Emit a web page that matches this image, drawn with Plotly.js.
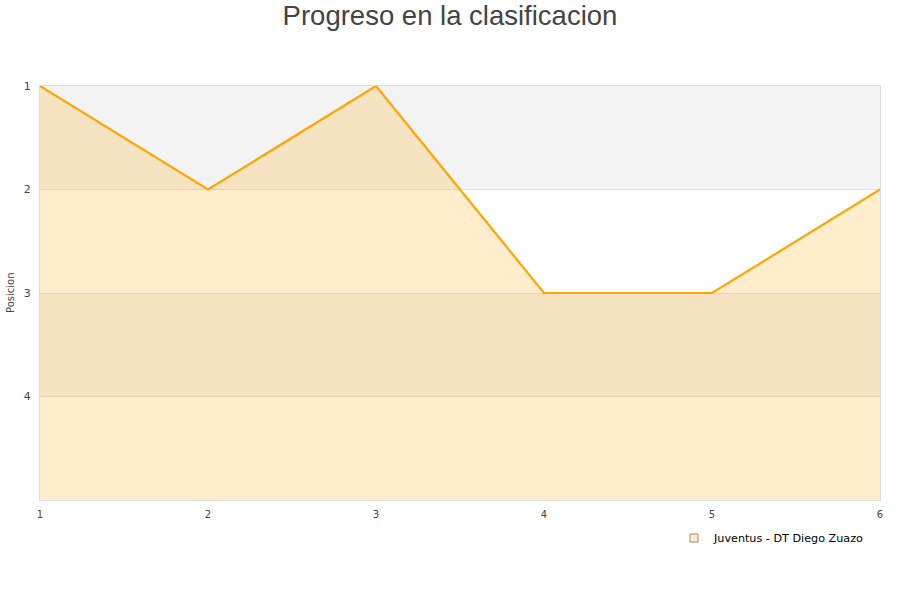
<!DOCTYPE html>
<html>
<head>
<meta charset="utf-8">
<script src="https://cdn.plot.ly/plotly-3.0.1.min.js"></script>
<style>html,body{margin:0;padding:0;background:#fff;}#chart{width:900px;height:600px;}</style>
</head>
<body>
<div id="chart"></div>
<script>
const fechas = [1, 2, 3, 4, 5, 6];
const posiciones = [1, 2, 1, 3, 3, 2];
const equipo = "Juventus - DT Diego Zuazo";
const ultimaPosicion = 5;
const bandas = [[1, 2], [3, 4]];

const base = {
  x: fechas,
  y: fechas.map(() => ultimaPosicion),
  mode: 'lines',
  line: {width: 0, color: 'rgba(0,0,0,0)'},
  hoverinfo: 'skip',
  showlegend: false
};
const serie = {
  x: fechas,
  y: posiciones,
  mode: 'lines',
  fill: 'tonexty',
  fillcolor: 'rgba(255,165,0,0.2)',
  line: {color: '#ffa500', width: 2.2},
  name: equipo,
  showlegend: false
};
const leyenda = {
  x: [null], y: [null],
  mode: 'markers',
  marker: {symbol: 'square', size: 8, color: 'rgba(255,165,0,0.2)', line: {color: '#9a8a6a', width: 1}},
  name: equipo,
  showlegend: true
};

const shapes = bandas.map(b => ({
  type: 'rect', xref: 'paper', yref: 'y', x0: 0, x1: 1, y0: b[0], y1: b[1],
  fillcolor: '#f3f3f3', line: {width: 0}, layer: 'below'
}));

const layout = {
  width: 900, height: 600,
  margin: {l: 40, r: 20, t: 86, b: 100, pad: 0},
  paper_bgcolor: '#ffffff',
  plot_bgcolor: '#ffffff',
  font: {family: 'DejaVu Sans, sans-serif', size: 11, color: '#444'},
  title: {text: 'Progreso en la clasificacion', font: {family: 'Liberation Sans, Arial, sans-serif', size: 27.5, color: '#444'}, x: 0.5, xanchor: 'center', y: 0.975, yanchor: 'middle'},
  xaxis: {
    range: [1, 6], tickvals: fechas, ticktext: fechas.map(String),
    showgrid: false, zeroline: false, showline: true, mirror: true, linecolor: '#dcdcdc', linewidth: 1,
    ticks: 'outside', ticklen: 5, tickcolor: 'rgba(0,0,0,0)',
    tickfont: {size: 10, color: '#444'}, fixedrange: true
  },
  yaxis: {
    range: [ultimaPosicion, 1], tickvals: [1, 2, 3, 4], ticktext: ['1', '2', '3', '4'],
    showgrid: true, gridcolor: '#e6e0d6', gridwidth: 1, zeroline: false,
    showline: true, mirror: true, linecolor: '#dcdcdc', linewidth: 1,
    ticks: 'outside', ticklen: 6, tickcolor: 'rgba(0,0,0,0)',
    tickfont: {size: 11, color: '#444'}, fixedrange: true
  },
  shapes: shapes,
  annotations: [{
    text: 'Posicion', xref: 'paper', yref: 'paper', x: -30/840, y: 0.5,
    xanchor: 'center', yanchor: 'middle', textangle: -90, showarrow: false,
    font: {size: 10, color: '#444'}
  }],
  showlegend: true,
  legend: {
    x: 634/840, y: -38/414, xanchor: 'left', yanchor: 'middle',
    bgcolor: 'rgba(0,0,0,0)', font: {size: 11.2, color: '#000'}, borderwidth: 0
  }
};

Plotly.newPlot('chart', [base, serie, leyenda], layout, {displayModeBar: false, staticPlot: true});
</script>
</body>
</html>
